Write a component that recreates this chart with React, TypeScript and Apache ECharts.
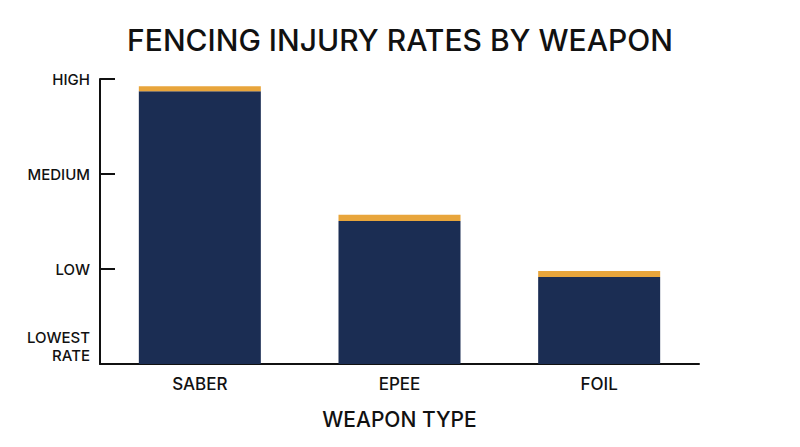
import React, { useEffect, useRef } from "react";
import * as echarts from "echarts";

const categories = ["SABER", "EPEE", "FOIL"];
const rateValues = [2.87, 1.505, 0.915];
const capValues = [0.055, 0.065, 0.065];
const tickLabels = ["LOWEST\nRATE\n\n", "LOW", "MEDIUM", "HIGH"];

const FONT = "Inter";

export default function App() {
  const ref = useRef<HTMLDivElement>(null);
  useEffect(() => {
    document.body.style.margin = "0";
    const chart = echarts.init(ref.current!, null, { renderer: "svg" });
    chart.setOption({
      animation: false,
      backgroundColor: "#ffffff",
      title: {
        text: "FENCING INJURY RATES BY WEAPON",
        left: "center",
        top: 20,
        textStyle: { fontFamily: FONT, fontSize: 30, fontWeight: 500, color: "#111" },
      },
      grid: { left: 100, right: 101, top: 79, bottom: 83, containLabel: false },
      xAxis: {
        type: "category",
        data: categories,
        axisLine: { lineStyle: { color: "#111", width: 2 } },
        axisTick: { show: false },
        axisLabel: { fontFamily: FONT, fontSize: 17, fontWeight: 500, color: "#111", margin: 11 },
        name: "WEAPON TYPE",
        nameLocation: "middle",
        nameGap: 45,
        nameTextStyle: { fontFamily: FONT, fontSize: 21, fontWeight: 500, color: "#111" },
      },
      yAxis: {
        type: "value",
        min: 0,
        max: 3,
        interval: 1,
        splitLine: { show: false },
        axisLine: { show: true, lineStyle: { color: "#111", width: 2 } },
        axisTick: { show: true, inside: true, length: 15, lineStyle: { color: "#111", width: 2 } },
        axisLabel: {
          fontFamily: FONT,
          fontSize: 15,
          fontWeight: 500,
          color: "#111",
          margin: 10,
          lineHeight: 18,
          formatter: (v: number) => tickLabels[Math.round(v)],
        },
      },
      series: [
        {
          type: "bar",
          stack: "rate",
          data: rateValues,
          barWidth: 122,
          itemStyle: { color: "#1b2d53" },
        },
        {
          type: "bar",
          stack: "rate",
          data: capValues,
          barWidth: 122,
          itemStyle: { color: "#e8a53b" },
        },
      ],
    });
    return () => chart.dispose();
  }, []);
  return <div ref={ref} style={{ width: 800, height: 447 }} />;
}
